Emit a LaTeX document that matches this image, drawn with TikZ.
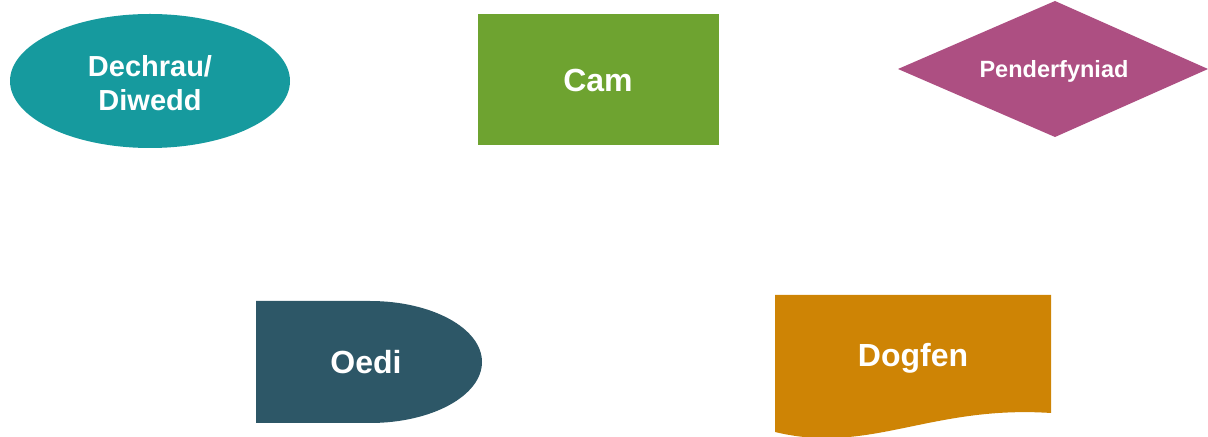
\documentclass[tikz,border=0pt]{standalone}
\usepackage{fontspec}
\setmainfont{Liberation Sans}
\definecolor{cteal}{HTML}{169A9E}
\definecolor{cgreen}{HTML}{6EA330}
\definecolor{cmag}{HTML}{AD4F82}
\definecolor{cdark}{HTML}{2D5767}
\definecolor{corange}{HTML}{CE8405}
\tikzset{
  lbl/.style={text=white, align=center, inner sep=0pt},
  big/.style={lbl, font=\fontsize{32bp}{36bp}\selectfont\bfseries},
  mid/.style={lbl, font=\fontsize{29bp}{34bp}\selectfont\bfseries},
  small/.style={lbl, font=\fontsize{23.5bp}{27bp}\selectfont\bfseries},
}
\begin{document}
\begin{tikzpicture}[x=1bp,y=-1bp]
\useasboundingbox (0,0) rectangle (1208,437);
% start/end ellipse
\fill[cteal] (150,81) ellipse [x radius=140, y radius=67];
\node[mid] (start) at (150,83) {Dechrau/\\Diwedd};
% step rectangle
\fill[cgreen] (478,14) rectangle (719,145);
\node[big] (cam) at (598,80) {Cam};
% decision diamond
\fill[cmag] (898,69) -- (1055,1) -- (1208,69) -- (1055,137) -- cycle;
\node[small] (dec) at (1054,71) {Penderfyniad};
% delay
\fill[cdark] (256,301) -- (370,301) arc [start angle=-90, end angle=90, x radius=112, y radius=61] -- (256,423) -- cycle;
\node[big] (oedi) at (366,362) {Oedi};
% document
\fill[corange] (775,295) -- (1051,295) -- (1051,413) .. controls (930,405) and (870,455) .. (775,432) -- cycle;
\node[big] (doc) at (913,358) {Dogfen};
\end{tikzpicture}
\end{document}
